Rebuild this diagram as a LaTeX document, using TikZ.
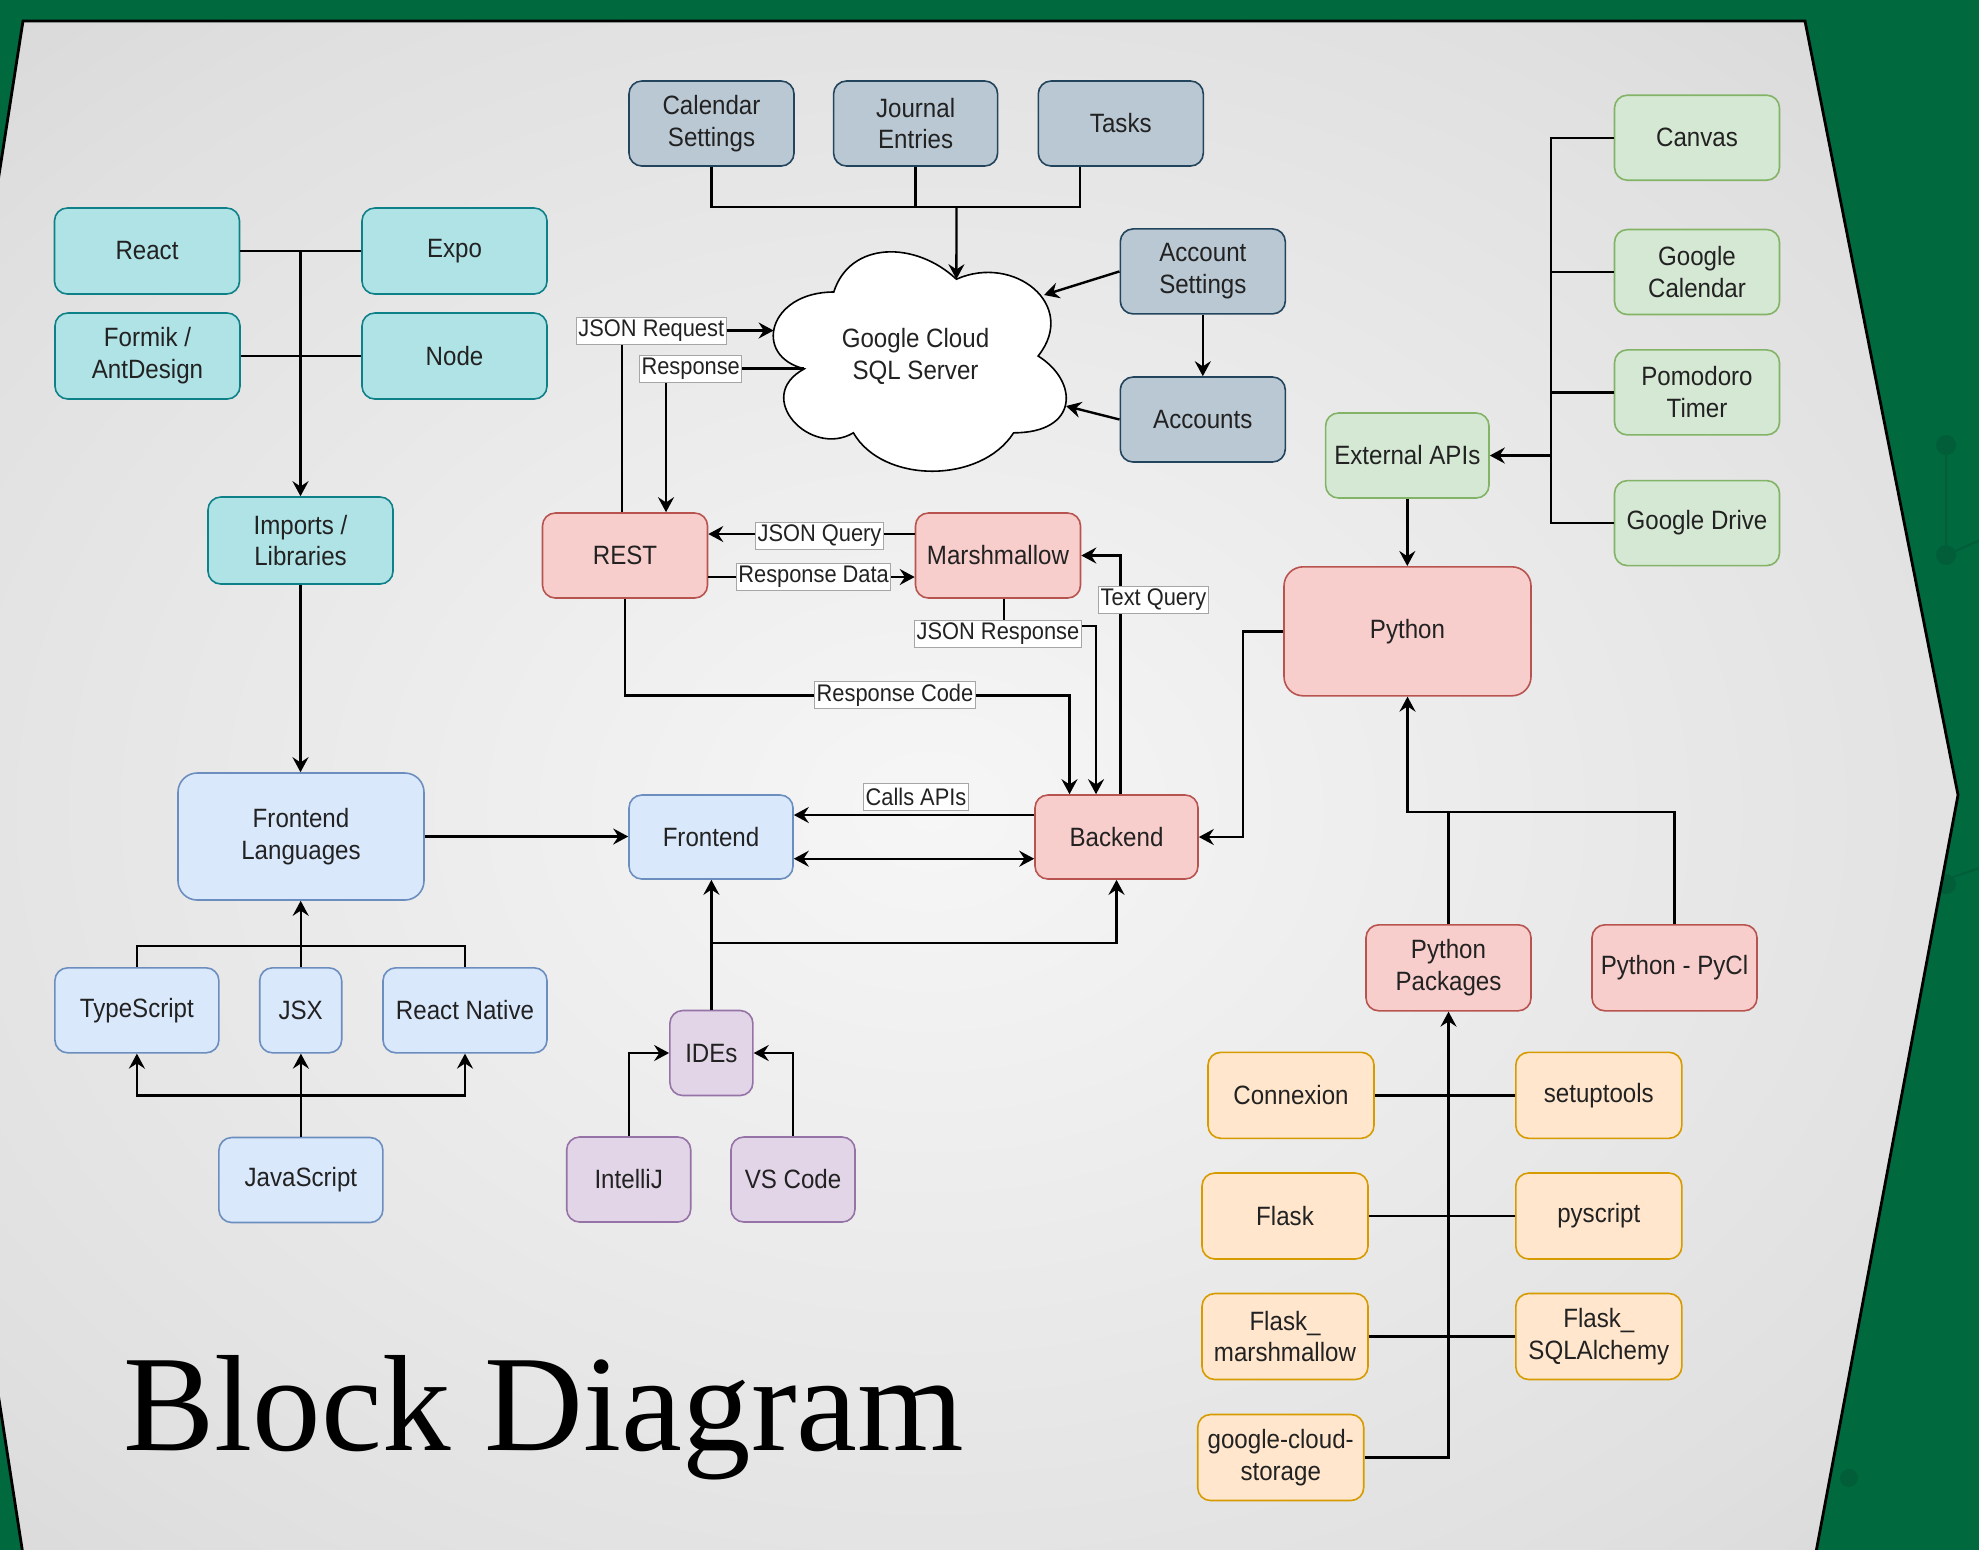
\documentclass[tikz,border=0pt]{standalone}
\usepackage{fontspec}
\setmainfont{Liberation Sans}
\newfontfamily\boxfont{Liberation Sans}[FakeStretch=0.91]
\newfontfamily\titlefont{Liberation Serif}
\usetikzlibrary{arrows.meta,calc}
\definecolor{slidegreen}{HTML}{00693E}
\definecolor{decogreen}{HTML}{015E38}
\definecolor{tealF}{HTML}{B0E3E6}\definecolor{tealD}{HTML}{0E8088}
\definecolor{slateF}{HTML}{BAC8D3}\definecolor{slateD}{HTML}{23445D}
\definecolor{blueF}{HTML}{DAE8FC}\definecolor{blueD}{HTML}{6C8EBF}
\definecolor{redF}{HTML}{F8CECC}\definecolor{redD}{HTML}{B85450}
\definecolor{greenF}{HTML}{D5E8D4}\definecolor{greenD}{HTML}{82B366}
\definecolor{purpF}{HTML}{E1D5E7}\definecolor{purpD}{HTML}{9673A6}
\definecolor{orF}{HTML}{FFE6CC}\definecolor{orD}{HTML}{D79B00}
\definecolor{txt}{HTML}{222222}
\definecolor{bgIn}{HTML}{F6F6F6}\definecolor{bgMid}{HTML}{E0E0E0}\definecolor{bgOut}{HTML}{B0B0B0}
\pgfdeclareradialshading{slideshade}{\pgfpoint{0bp}{0bp}}{color(0bp)=(bgIn); color(28bp)=(bgMid); color(72bp)=(bgOut)}
\tikzset{
  box/.style={draw, rounded corners=6.4pt, line width=0.8pt, align=center, inner sep=1pt, text=txt,
    font=\boxfont\fontsize{13.25pt}{15.9pt}\selectfont, minimum width=82.5pt, minimum height=42.5pt},
  teal/.style={box, fill=tealF, draw=tealD, minimum width=92.5pt, minimum height=43pt},
  slate/.style={box, fill=slateF, draw=slateD},
  lblue/.style={box, fill=blueF, draw=blueD},
  lred/.style={box, fill=redF, draw=redD},
  lgreen/.style={box, fill=greenF, draw=greenD},
  lpurp/.style={box, fill=purpF, draw=purpD},
  lorange/.style={box, fill=orF, draw=orD},
  big/.style={rounded corners=9.6pt},
  lbl/.style={draw=gray!70, line width=0.4pt, fill=white, inner xsep=1pt, inner ysep=0pt,
    minimum height=13.5pt, text=txt, font=\boxfont\fontsize{12pt}{14pt}\selectfont},
  link/.style={line width=1.2pt, draw=black},
  arr/.style={link, -{Stealth[length=7.5pt,width=8pt,inset=2.6pt]}},
  darr/.style={link, {Stealth[length=7.5pt,width=8pt,inset=2.6pt]}-{Stealth[length=7.5pt,width=8pt,inset=2.6pt]}},
}
\begin{document}
\begin{tikzpicture}[x=0.5pt,y=-0.5pt]
\useasboundingbox (0,0) rectangle (1979,1549);
\begin{scope}
\clip (0,0) rectangle (1979,1549);
% background
\fill[slidegreen] (-10,-10) rectangle (1990,1560);
\draw[decogreen, line width=1pt] (1946,445) -- (1946,555) -- (1985,538);
\draw[decogreen, line width=1pt] (1930,885) -- (1985,866);
\fill[decogreen] (1946,445) circle[radius=5pt];
\fill[decogreen] (1946,555) circle[radius=5pt];
\fill[decogreen] (1946,884) circle[radius=5pt];
\fill[decogreen] (1849,1478) circle[radius=4.5pt];
\shadedraw[shading=slideshade, draw=black, line width=1.4pt]
  (23,21) -- (1805,21) -- (1958,795) -- (1807,1600) -- (30,1600) -- (-96,785) -- cycle;
\end{scope}

% title
\node[anchor=base west, inner sep=0pt, text=black, font=\titlefont\fontsize{68.5pt}{80pt}\selectfont] (title) at (123,1450) {Block Diagram};

% cloud
\draw[fill=white, line width=0.8pt] (833.75,292) .. controls (768.35,292) and (752,356) .. (804.32,368.8)
  .. controls (752,396.96) and (810.86,458.4) .. (853.37,432.8)
  .. controls (882.8,484) and (980.9,484) .. (1013.6,432.8)
  .. controls (1079,432.8) and (1079,381.6) .. (1038.1,356)
  .. controls (1079,304.8) and (1013.6,253.6) .. (956.4,279.2)
  .. controls (915.5,240.8) and (850.1,240.8) .. (833.75,292) -- cycle;
\node[align=center, text=txt, inner sep=0pt, font=\boxfont\fontsize{13.25pt}{15.9pt}\selectfont] (cloud) at (915.5,356) {Google Cloud\\SQL Server};
\coordinate (cloudtop) at (956.4,279.2);
\coordinate (cloudleft) at (773.6,330.5);
\coordinate (cloudcusp) at (804.3,368.5);
\coordinate (cloudne) at (1044,295);
\coordinate (cloudse) at (1066,406);

% teal nodes
\node[teal] (react) at (147,251) {React};
\node[teal] (expo) at (454.5,251) {Expo};
\node[teal] (formik) at (147.5,356) {Formik /\\AntDesign};
\node[teal] (nodejs) at (454.5,356) {Node};
\node[teal, minimum height=43.5pt] (imports) at (300.5,540.5) {Imports /\\Libraries};

% slate nodes
\node[slate] (cal) at (711.5,123.5) {Calendar\\Settings};
\node[slate, minimum width=82pt] (journal) at (915.6,123.5) {Journal\\Entries};
\node[slate] (tasks) at (1120.8,123.5) {Tasks};
\node[slate] (acctset) at (1202.8,271.4) {Account\\Settings};
\node[slate] (accounts) at (1202.8,419.5) {Accounts};

% middle
\node[lred] (rest) at (625,555.5) {REST};
\node[lred] (marsh) at (998,555.5) {Marshmallow};
\node[lblue, minimum width=82pt, minimum height=42pt] (frontend) at (711,837) {Frontend};
\node[lred, minimum width=81.5pt, minimum height=42pt] (backend) at (1116.5,837) {Backend};

% frontend languages
\node[lblue, big, minimum width=123pt, minimum height=63.5pt] (felang) at (301,836.5) {Frontend\\Languages};
\node[lblue, minimum width=82pt] (ts) at (136.9,1010.3) {TypeScript};
\node[lblue, minimum width=41pt] (jsx) at (300.7,1010.3) {JSX};
\node[lblue, minimum width=82pt] (rn) at (465,1010.3) {React Native};
\node[lblue, minimum width=82pt] (js) at (300.9,1180) {JavaScript};

% IDEs
\node[lpurp, minimum width=41.5pt] (ides) at (711.4,1053) {IDEs};
\node[lpurp, minimum width=62pt] (intellij) at (628.7,1179.5) {IntelliJ};
\node[lpurp, minimum width=62pt] (vscode) at (793,1179.5) {VS Code};

% external APIs
\node[lgreen] (canvas) at (1697,137.7) {Canvas};
\node[lgreen] (gcal) at (1697,272) {Google\\Calendar};
\node[lgreen] (pomo) at (1697,392.4) {Pomodoro\\Timer};
\node[lgreen] (gdrive) at (1697,523.1) {Google Drive};
\node[lgreen, minimum width=81.7pt] (extapi) at (1407.3,455.5) {External APIs};

% python
\node[lred, big, minimum width=123.5pt, minimum height=64.5pt] (python) at (1407.5,631.3) {Python};
\node[lred, minimum height=43pt] (pypkg) at (1448.5,967.8) {Python\\Packages};
\node[lred, minimum height=43pt] (pycl) at (1674.5,967.8) {Python - PyCl};

% packages
\node[lorange, minimum width=83pt, minimum height=43pt] (connexion) at (1291,1095.3) {Connexion};
\node[lorange, minimum width=83pt, minimum height=43pt] (setuptools) at (1598.8,1095.3) {setuptools};
\node[lorange, minimum width=83pt, minimum height=43pt] (flask) at (1285,1216) {Flask};
\node[lorange, minimum width=83pt, minimum height=43pt] (pyscript) at (1598.8,1216) {pyscript};
\node[lorange, minimum width=83pt, minimum height=43pt] (fmarsh) at (1285,1336.5) {Flask\_\\marshmallow};
\node[lorange, minimum width=83pt, minimum height=43pt] (fsql) at (1598.8,1336.5) {Flask\_\\SQLAlchemy};
\node[lorange, minimum width=83pt, minimum height=43pt] (gcs) at (1280.7,1457.5) {google-cloud-\\storage};

% ---------- connectors ----------
% top-left cluster
\draw[link] (react.east) -- (expo.west);
\draw[link] (formik.east) -- (nodejs.west);
\draw[arr] (react.east -| imports.north) -- (imports.north);
\draw[arr] (imports.south) -- (imports.south |- felang.north);

% database inputs
\coordinate (sqlbus) at (956.5,207);
\coordinate (tasksdrop) at ($(tasks.south)+(-41,0)$);
\draw[link] (cal.south) |- (tasksdrop |- sqlbus) -- (tasksdrop);
\draw[link] (journal.south) -- (journal.south |- sqlbus);
\draw[arr] (sqlbus) -- (cloudtop);
\draw[arr] (acctset.west) -- (cloudne);
\draw[arr] (acctset.south) -- (accounts.north);
\draw[arr] (accounts.west) -- (cloudse);

% REST <-> cloud
\draw[arr] ($(rest.north)+(-3,0)$) |- (cloudleft);
\draw[arr] (cloudcusp) -| ($(rest.north)+(41,0)$);

% REST <-> Marshmallow
\draw[arr] ($(marsh.west)+(0,-21.5)$) -- ($(rest.east)+(0,-21.5)$);
\draw[arr] ($(rest.east)+(0,21.5)$) -- ($(marsh.west)+(0,21.5)$);

% to/from backend
\draw[arr] ($(marsh.south)+(6,0)$) -- ++(0,27) -| ($(backend.north)+(-20.5,0)$);
\draw[arr] (rest.south) -- ++(0,96.5) -| ($(backend.north)+(-47,0)$);
\draw[arr] ($(backend.north)+(4,0)$) |- (marsh.east);

% frontend <-> backend
\draw[arr] ($(backend.west)+(0,-22)$) -- ($(frontend.east)+(0,-22)$);
\draw[darr] ($(frontend.east)+(0,21.7)$) -- ($(backend.west)+(0,21.7)$);
\draw[arr] (felang.east) -- (felang.east -| frontend.west);
\draw[arr] (python.west) -- ++(-40,0) |- (backend.east);

% IDEs
\coordinate (idebr) at (711.4,942.7);
\draw[arr] (ides.north) -- (ides.north |- frontend.south);
\draw[arr] (idebr) -| (backend.south);
\draw[arr] (intellij.north) |- (ides.west);
\draw[arr] (vscode.north) |- (ides.east);

% frontend languages
\draw[arr] (jsx.north) -- (jsx.north |- felang.south);
\draw[link] (ts.north) -- ++(0,-20.8) -| (rn.north);
\draw[arr] (js.north) -- (js.north |- jsx.south);
\coordinate (jsbr) at (300.9,1095.6);
\draw[arr] (jsbr) -| (ts.south);
\draw[arr] (jsbr) -| (rn.south);

% external APIs
\coordinate (apibus) at (1551,455.5);
\draw[link] (canvas.west) -| (apibus |- gdrive.west) -- (gdrive.west);
\draw[link] (gcal.west) -- (gcal.west -| apibus);
\draw[link] (pomo.west) -- (pomo.west -| apibus);
\draw[arr] (apibus) -- (extapi.east);
\draw[arr] (extapi.south) -- (extapi.south |- python.north);

% python packages
\coordinate (pyjoin) at (1407.5,811.7);
\draw[arr] (pypkg.north) |- (pyjoin) -- (python.south);
\draw[link] (pycl.north) |- (pyjoin);
\draw[link] (connexion.east) -- (setuptools.west);
\draw[link] (flask.east) -- (pyscript.west);
\draw[link] (fmarsh.east) -- (fsql.west);
\draw[arr] (gcs.east) -| (pypkg.south);

% ---------- connector labels ----------
\node[lbl] (ljsonreq) at (651.3,331) {JSON Request};
\node[lbl] (lresp) at (690.7,369) {Response};
\node[lbl] (ljsonq) at (819.5,536) {JSON Query};
\node[lbl] (lrespdata) at (813.6,577) {Response Data};
\node[lbl] (ltextq) at (1153.5,599.5) {Text Query};
\node[lbl] (ljsonresp) at (998,633.5) {JSON Response};
\node[lbl] (lrespcode) at (895,695) {Response Code};
\node[lbl] (lcalls) at (916,796.5) {Calls APIs};
\end{tikzpicture}
\end{document}
